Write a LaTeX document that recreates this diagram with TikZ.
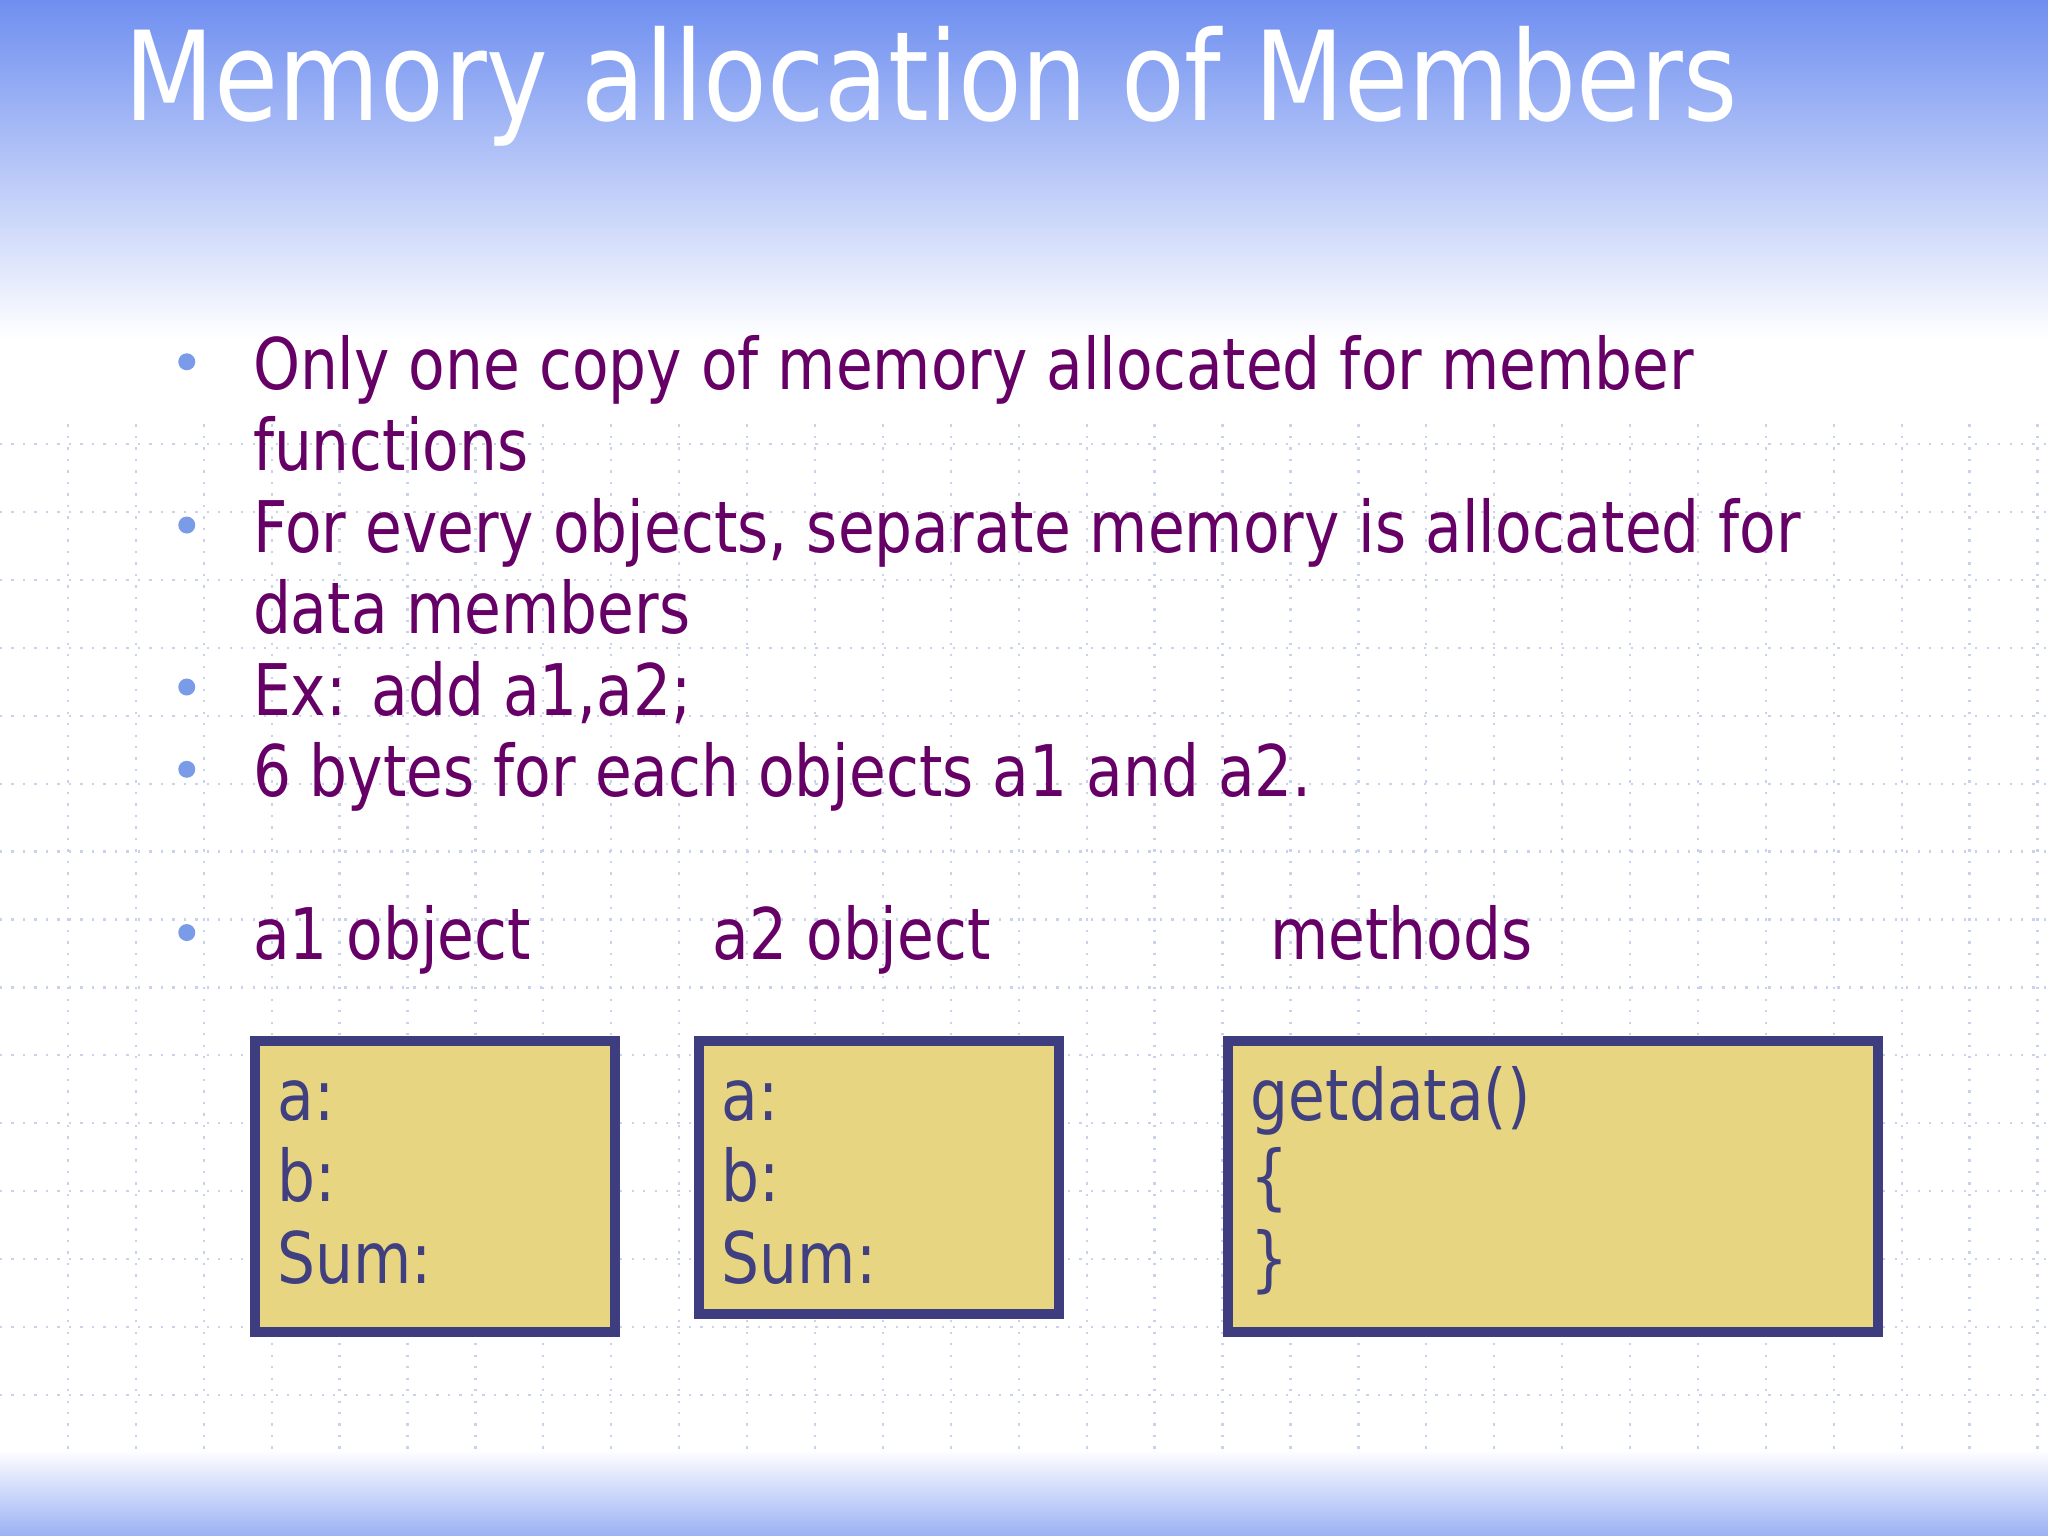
\documentclass[tikz,border=0pt]{standalone}
\usepackage{fontspec}
\setmainfont[FakeStretch=0.84]{DejaVu Sans}
\definecolor{topblue}{HTML}{6F8FF0}
\definecolor{txt}{HTML}{660066}
\definecolor{boxfill}{HTML}{E8D582}
\definecolor{boxline}{HTML}{3D3D80}
\definecolor{boxtxt}{HTML}{404080}
\definecolor{gridc}{HTML}{C8D2EC}
\definecolor{bul}{HTML}{7A9BE8}
\tikzset{
  body/.style={anchor=base west,inner sep=0pt,text=txt,font=\fontsize{15.5}{18}\selectfont},
  boxt/.style={anchor=base west,inner sep=0pt,text=boxtxt,font=\fontsize{15.5}{18}\selectfont},
  memb/.style={draw=boxline,fill=boxfill,line width=2.2pt},
  bullet/.style={circle,fill=bul,inner sep=0pt,minimum size=0.13cm}
}
\begin{document}
\begin{tikzpicture}[x=0.01cm,y=-0.01cm]
\useasboundingbox (0,0) rectangle (1568,1176);
\fill[white] (0,0) rectangle (1568,1176);
\shade[top color=topblue,bottom color=white] (0,0) rectangle (1568,260);
\foreach \x in {52,104,...,1560} \draw[gridc,dotted,line width=0.5pt] (\x,325) -- (\x,1110);
\foreach \y in {340,392,...,1110} \draw[gridc,dotted,line width=0.5pt] (0,\y) -- (1568,\y);
\shade[top color=white,bottom color=topblue!70] (0,1110) rectangle (1568,1176);
\node[anchor=base west,inner sep=0pt,text=white,font=\fontsize{27}{32}\selectfont] (title) at (95,92) {Memory allocation of Members};
\foreach \y/\n in {277/b1,402/b2,526/b3,589/b4,714/b5} \node[bullet] (\n) at (143,\y) {};
\node[body] (t1) at (193,298) {Only one copy of memory allocated for member};
\node[body] (t1b) at (193,360) {functions};
\node[body] (t2) at (193,423) {For every objects, separate memory is allocated for};
\node[body] (t2b) at (193,485) {data members};
\node[body] (t3) at (193,548) {Ex: add a1,a2;};
\node[body] (t4) at (193,610) {6 bytes for each objects a1 and a2.};
\node[body] (l1) at (193,735) {a1 object};
\node[body] (l2) at (545,735) {a2 object};
\node[body] (l3) at (972,735) {methods};
\draw[memb] (195,797) rectangle (471,1020);
\draw[memb] (535,797) rectangle (811,1006);
\draw[memb] (940,797) rectangle (1438,1020);
\foreach \x/\p in {212/A,552/B}{
  \node[boxt] (\p a) at (\x,858) {a:};
  \node[boxt] (\p b) at (\x,920) {b:};
  \node[boxt] (\p s) at (\x,983) {Sum:};
}
\node[boxt] (g1) at (957,858) {getdata()};
\node[boxt] (g2) at (957,920) {\{};
\node[boxt] (g3) at (957,983) {\}};
\end{tikzpicture}
\end{document}
